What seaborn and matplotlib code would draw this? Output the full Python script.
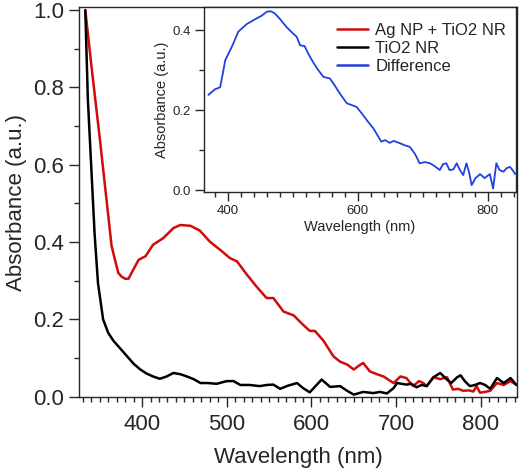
import matplotlib
matplotlib.use("Agg")
import matplotlib.pyplot as plt
from matplotlib.ticker import MultipleLocator, FormatStrFormatter
import seaborn as sns

# Ag NP + TiO2 NR spectrum
wl_red = [333, 340, 350, 358, 364, 368, 372, 376, 380, 384, 390, 396, 404, 413, 425,
          437, 445, 457, 468, 480, 492, 504, 512, 524, 535, 547, 555, 567, 579, 590,
          598, 604, 614, 626, 634, 642, 650, 656, 661, 669, 677, 685, 697, 705, 712,
          720, 727, 732, 736, 744, 752, 760, 767, 773, 779, 786, 791, 795, 799, 805,
          811, 819, 827, 835, 842]
abs_red = [1.0, 0.86, 0.67, 0.51, 0.39, 0.354, 0.32, 0.31, 0.305, 0.305, 0.33, 0.354, 0.363, 0.393, 0.41,
           0.436, 0.444, 0.442, 0.43, 0.401, 0.38, 0.358, 0.35, 0.315, 0.285, 0.255, 0.255, 0.22, 0.21, 0.186,
           0.17, 0.17, 0.145, 0.104, 0.09, 0.083, 0.07, 0.08, 0.087, 0.065, 0.058, 0.052, 0.035, 0.052, 0.048,
           0.027, 0.04, 0.035, 0.027, 0.05, 0.045, 0.05, 0.018, 0.02, 0.015, 0.016, 0.013, 0.027, 0.01, 0.012,
           0.015, 0.035, 0.03, 0.04, 0.03]

# TiO2 NR spectrum
wl_black = [333, 336, 340, 344, 348, 354, 360, 366, 372, 378, 384, 390, 398, 405, 413,
            421, 429, 437, 445, 453, 461, 469, 478, 488, 500, 508, 516, 527, 539, 547,
            555, 563, 572, 583, 590, 598, 606, 612, 622, 634, 642, 650, 661, 673, 681,
            689, 697, 701, 712, 718, 724, 730, 736, 744, 752, 760, 765, 772, 776, 781,
            787, 793, 799, 805, 811, 819, 827, 835, 842]
abs_black = [1.0, 0.77, 0.595, 0.42, 0.293, 0.2, 0.165, 0.145, 0.13, 0.115, 0.1, 0.085, 0.07, 0.06, 0.052,
             0.046, 0.052, 0.061, 0.058, 0.052, 0.045, 0.035, 0.035, 0.033, 0.04, 0.04, 0.03, 0.03, 0.027, 0.03,
             0.031, 0.02, 0.028, 0.035, 0.022, 0.011, 0.03, 0.044, 0.025, 0.027, 0.015, 0.005, 0.012, 0.009, 0.012,
             0.008, 0.022, 0.035, 0.031, 0.033, 0.024, 0.03, 0.027, 0.05, 0.061, 0.044, 0.035, 0.05, 0.055, 0.04,
             0.027, 0.03, 0.035, 0.03, 0.02, 0.048, 0.035, 0.048, 0.03]

# Difference spectrum (inset)
wl_diff = [370, 375, 380, 388, 392, 396, 406, 416, 429, 444, 452, 460, 466, 472, 480, 490, 498,
           506, 511, 518, 524, 531, 539, 547, 557, 565, 572, 583, 598, 608, 616, 624, 636, 642,
           649, 655, 665, 672, 680, 688, 695, 703, 711, 718, 726, 731, 736, 741, 747, 752, 757,
           762, 767, 771, 775, 781, 788, 795, 803, 808, 813, 818, 824, 829, 834, 838, 842]
abs_diff = [0.238, 0.245, 0.252, 0.257, 0.29, 0.325, 0.358, 0.396, 0.415, 0.429, 0.436, 0.446, 0.447,
            0.442, 0.428, 0.408, 0.395, 0.383, 0.362, 0.36, 0.34, 0.32, 0.3, 0.283, 0.279, 0.26, 0.242,
            0.217, 0.208, 0.1875, 0.17, 0.154, 0.121, 0.125, 0.118, 0.123, 0.117, 0.112, 0.108, 0.09,
            0.067, 0.07, 0.067, 0.06, 0.05, 0.065, 0.067, 0.05, 0.052, 0.067, 0.05, 0.0375, 0.067, 0.045,
            0.0125, 0.03, 0.04, 0.03, 0.04, 0.004, 0.067, 0.05, 0.046, 0.055, 0.058, 0.05, 0.04]

labels = ["Ag NP + TiO2 NR", "TiO2 NR", "Difference"]
colors = ["#d10a0a", "#000000", "#2340e0"]

sns.set_style("ticks")
plt.rcParams['font.family'] = ['Liberation Sans', 'DejaVu Sans']

fig = plt.figure(figsize=(5.2, 4.72), dpi=100)
ax = fig.add_axes([0.152, 0.159, 0.842, 0.826])

sns.lineplot(x=wl_red, y=abs_red, ax=ax, color=colors[0], lw=1.8, estimator=None, sort=False)
sns.lineplot(x=wl_black, y=abs_black, ax=ax, color=colors[1], lw=1.8, estimator=None, sort=False)

ax.set_xlim(325.6, 842.5)
ax.set_ylim(-0.001, 1.008)
ax.xaxis.set_major_locator(MultipleLocator(100))
ax.xaxis.set_minor_locator(MultipleLocator(10))
ax.yaxis.set_major_locator(MultipleLocator(0.2))
ax.yaxis.set_minor_locator(MultipleLocator(0.1))
ax.yaxis.set_major_formatter(FormatStrFormatter('%.1f'))
ax.tick_params(which='major', length=7, width=1, labelsize=16, direction='out', pad=4)
ax.tick_params(axis='x', which='major', pad=5)
ax.tick_params(which='minor', length=3.8, width=1, direction='out')
for s in ax.spines.values():
    s.set_linewidth(1)
    s.set_visible(True)
ax.set_xlabel("Wavelength (nm)", fontsize=16, labelpad=9)
ax.set_ylabel("Absorbance (a.u.)", fontsize=16)

# inset with the difference spectrum
ins = fig.add_axes([0.392, 0.593, 0.600, 0.392])
sns.lineplot(x=wl_diff, y=abs_diff, ax=ins, color=colors[2], lw=1.3, estimator=None, sort=False)
ins.set_xlim(363, 843)
ins.set_ylim(-0.005, 0.4575)
ins.xaxis.set_major_locator(MultipleLocator(200))
ins.xaxis.set_minor_locator(MultipleLocator(20))
ins.yaxis.set_major_locator(MultipleLocator(0.2))
ins.yaxis.set_minor_locator(MultipleLocator(0.1))
ins.yaxis.set_major_formatter(FormatStrFormatter('%.1f'))
ins.tick_params(which='major', length=6.5, width=1, labelsize=9.5, direction='out', pad=3)
ins.tick_params(which='minor', length=3.5, width=1, direction='out')
for s in ins.spines.values():
    s.set_linewidth(1)
    s.set_visible(True)
ins.set_xlabel("Wavelength (nm)", fontsize=10.5, labelpad=2)
ins.set_ylabel("Absorbance (a.u.)", fontsize=10.5, labelpad=2)

handles = [plt.Line2D([], [], color=c, lw=1.8) for c in colors]
ins.legend(handles, labels, loc='upper right', bbox_to_anchor=(0.99, 0.952),
           frameon=False, fontsize=12, handlelength=1.9, handletextpad=0.42,
           labelspacing=0.2, borderaxespad=0)

fig.savefig("out.png", dpi=100)
